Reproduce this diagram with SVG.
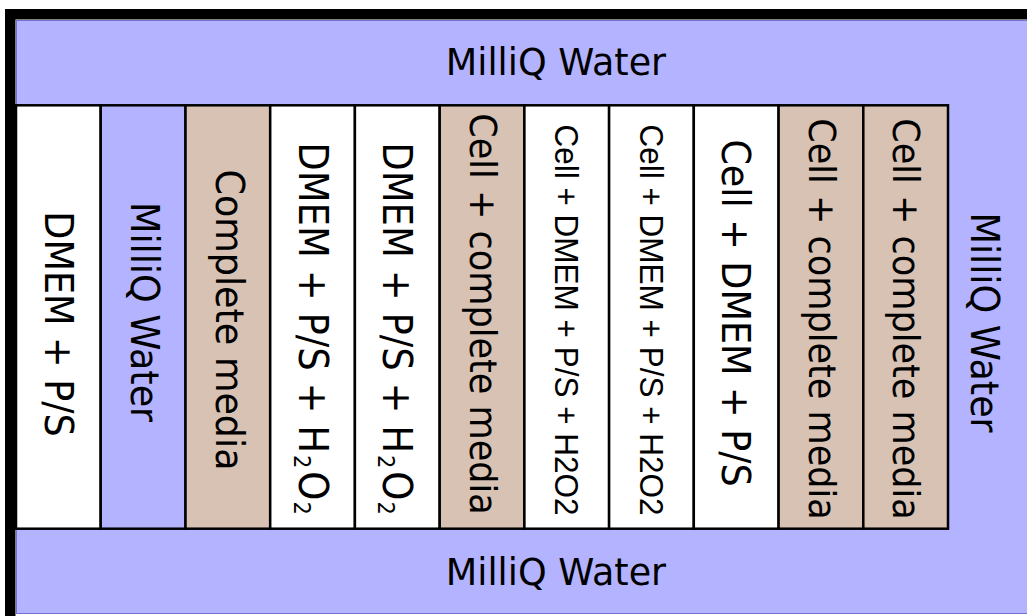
<svg xmlns="http://www.w3.org/2000/svg" width="1027" height="616" viewBox="0 0 1027 616">
  <style>
    .water { fill: #b3b3ff; }
    .outline { fill: none; stroke: #7272d2; stroke-width: 1; }
    .frame { fill: none; stroke: #000; stroke-width: 10.5; }
    .cell { stroke: #000; stroke-width: 2.5; }
    .white { fill: #ffffff; }
    .blue { fill: #b3b3ff; }
    .tan { fill: #d8c2b4; }
    .lbl { font-family: "DejaVu Sans", "Bitstream Vera Sans", sans-serif; font-size: 36.5px; fill: #000; text-anchor: middle; }
    .long { font-size: 35.1px; }
    .h2o2 { font-size: 37px; }
    .sm { font-family: "Liberation Sans", Arial, sans-serif; font-size: 31.5px; fill: #000; text-anchor: middle; }
    .sub { font-size: 21px; }
  </style>

  <rect x="0" y="0" width="1027" height="616" fill="#ffffff"/>

  <!-- water reservoirs around the plate -->
  <g id="water-top">
    <rect class="water" x="16" y="20" width="1020" height="86"/>
    <text class="lbl" x="556" y="74.5">MilliQ Water</text>
  </g>
  <g id="water-right">
    <rect class="water" x="948" y="104" width="90" height="426"/>
    <g transform="translate(986,322.5) rotate(90) scale(1,1.08)">
      <text class="lbl" x="0" y="13.5">MilliQ Water</text>
    </g>
  </g>
  <g id="water-bottom">
    <rect class="water" x="16" y="528" width="1020" height="85.5"/>
    <text class="lbl" x="556" y="584.5">MilliQ Water</text>
  </g>
  <rect class="outline" x="16.5" y="20.5" width="1030" height="593"/>

  <!-- wells, one column each -->
  <g id="well-1">
    <rect class="cell white" x="16" y="105.3" width="84.7" height="423.4"/>
    <g transform="translate(59.5,324) rotate(90) scale(1,1.08)">
      <text class="lbl" x="0" y="13.5">DMEM + P/S</text>
    </g>
  </g>
  <g id="well-2">
    <rect class="cell blue" x="100.7" y="105.3" width="84.8" height="423.4"/>
    <g transform="translate(146,312) rotate(90) scale(1,1.08)">
      <text class="lbl" x="0" y="13.5">MilliQ Water</text>
    </g>
  </g>
  <g id="well-3">
    <rect class="cell tan" x="185.5" y="105.3" width="84.7" height="423.4"/>
    <g transform="translate(230.5,320) rotate(90) scale(1,1.08)">
      <text class="lbl" x="0" y="13.5">Complete media</text>
    </g>
  </g>
  <g id="well-4">
    <rect class="cell white" x="270.2" y="105.3" width="84.7" height="423.4"/>
    <g transform="translate(313.5,328.5) rotate(90) scale(1,1.08)">
      <text class="lbl h2o2" x="0" y="13.5">DMEM + P/S + H<tspan class="sub" dx="2" dy="5">2</tspan><tspan dx="3" dy="-5">O</tspan><tspan class="sub" dx="1" dy="5">2</tspan></text>
    </g>
  </g>
  <g id="well-5">
    <rect class="cell white" x="354.9" y="105.3" width="84.8" height="423.4"/>
    <g transform="translate(398,328.5) rotate(90) scale(1,1.08)">
      <text class="lbl h2o2" x="0" y="13.5">DMEM + P/S + H<tspan class="sub" dx="2" dy="5">2</tspan><tspan dx="3" dy="-5">O</tspan><tspan class="sub" dx="1" dy="5">2</tspan></text>
    </g>
  </g>
  <g id="well-6">
    <rect class="cell tan" x="439.7" y="105.3" width="84.7" height="423.4"/>
    <g transform="translate(484,314) rotate(90) scale(1,1.08)">
      <text class="lbl long" x="0" y="13">Cell + complete media</text>
    </g>
  </g>
  <g id="well-7">
    <rect class="cell white" x="524.4" y="105.3" width="84.7" height="423.4"/>
    <g transform="translate(567,320) rotate(90) scale(1,1.08)">
      <text class="sm" x="0" y="11.5">Cell + DMEM + P/S + H2O2</text>
    </g>
  </g>
  <g id="well-8">
    <rect class="cell white" x="609.1" y="105.3" width="84.7" height="423.4"/>
    <g transform="translate(652,320) rotate(90) scale(1,1.08)">
      <text class="sm" x="0" y="11.5">Cell + DMEM + P/S + H2O2</text>
    </g>
  </g>
  <g id="well-9">
    <rect class="cell white" x="693.8" y="105.3" width="84.8" height="423.4"/>
    <g transform="translate(737,313) rotate(90) scale(1,1.08)">
      <text class="lbl" x="0" y="13.5">Cell + DMEM + P/S</text>
    </g>
  </g>
  <g id="well-10">
    <rect class="cell tan" x="778.6" y="105.3" width="84.7" height="423.4"/>
    <g transform="translate(823,319) rotate(90) scale(1,1.08)">
      <text class="lbl long" x="0" y="13">Cell + complete media</text>
    </g>
  </g>
  <g id="well-11">
    <rect class="cell tan" x="863.3" y="105.3" width="84.7" height="423.4"/>
    <g transform="translate(907.5,319) rotate(90) scale(1,1.08)">
      <text class="lbl long" x="0" y="13">Cell + complete media</text>
    </g>
  </g>

  <!-- no connectors in this layout -->
  <g id="connectors"/>

  <!-- heavy plate border -->
  <rect class="frame" x="10.25" y="14.25" width="1100" height="700"/>
</svg>
